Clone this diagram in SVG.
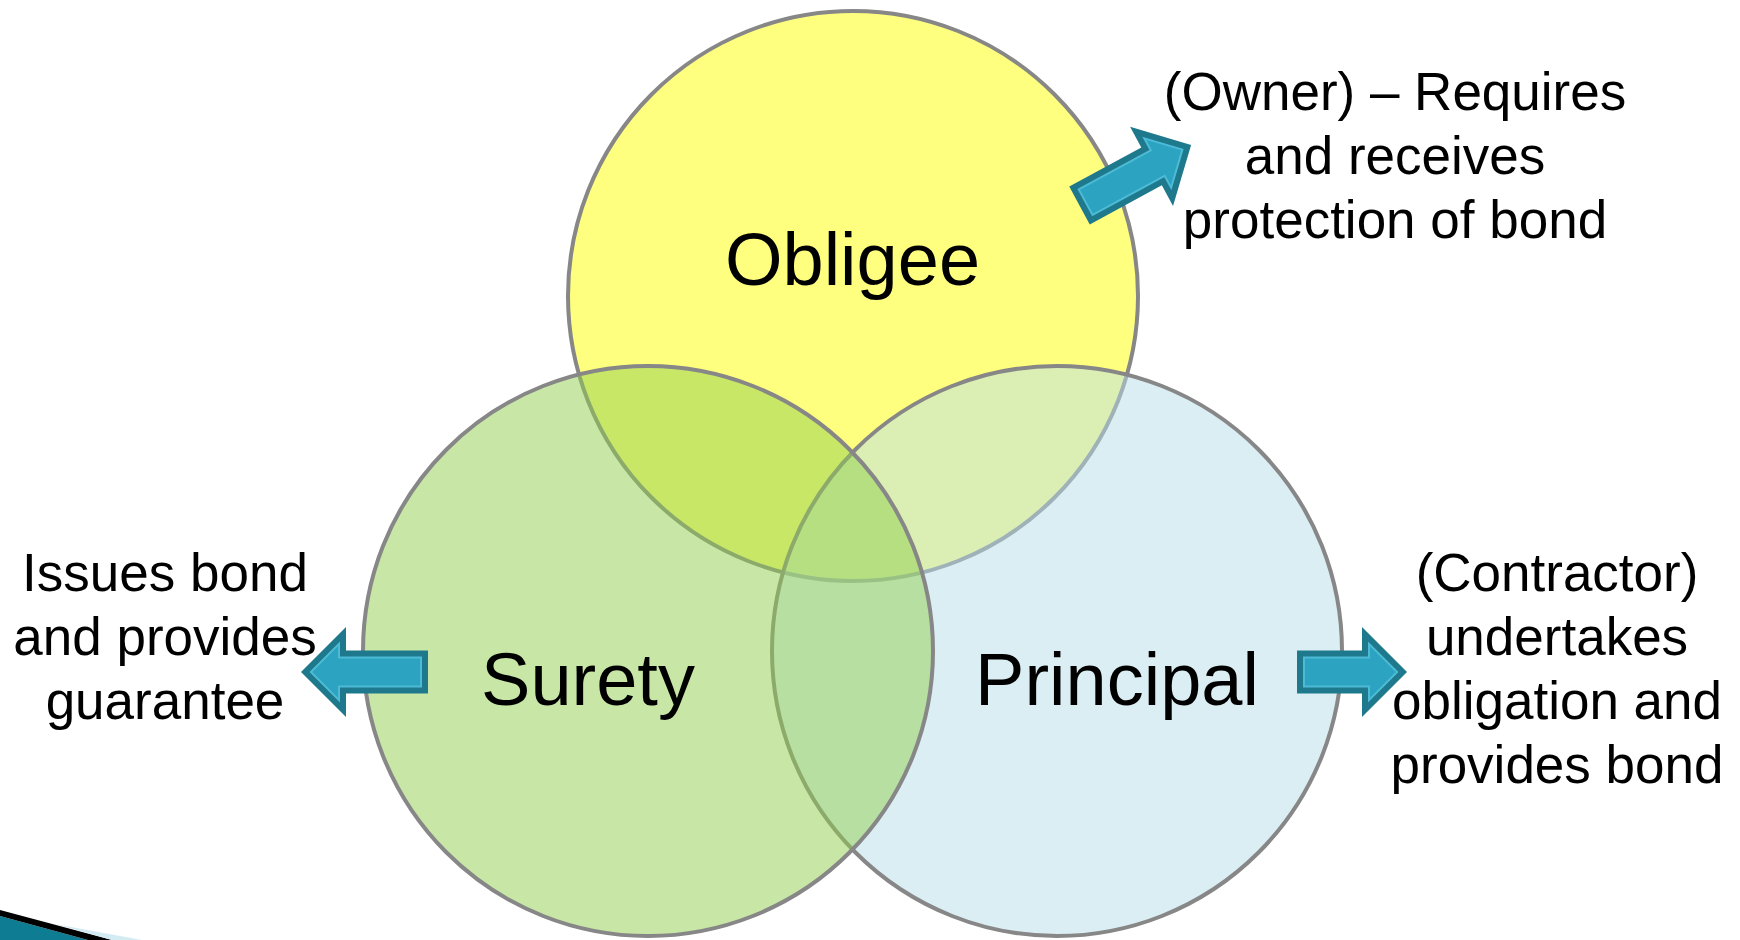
<svg xmlns="http://www.w3.org/2000/svg" width="1740" height="940" viewBox="0 0 1740 940">
<style>
.circ{stroke:#878787;stroke-width:4;fill-opacity:0.5}
.lbl{font-family:"Liberation Sans",Arial,sans-serif;font-size:74px;fill:#000;text-anchor:middle}
.desc{font-family:"Liberation Sans",Arial,sans-serif;font-size:53px;fill:#000;text-anchor:middle}
.aout{fill:#1F798D}
.ain{fill:#2BA3C1;stroke:#4DBBD5;stroke-width:2}
</style>
<defs>
<path id="a65o" d="M0,-21.5 H65 V-45 L110,0 L65,45 V21.5 H0 Z"/>
<path id="a65i" d="M7,-14.5 H72 V-28.1 L100.1,0 L72,28.1 V14.5 H7 Z"/>
<path id="a82o" d="M0,-21.5 H82 V-45 L127,0 L82,45 V21.5 H0 Z"/>
<path id="a82i" d="M7,-14.5 H89 V-28.1 L117.1,0 L89,28.1 V14.5 H7 Z"/>
</defs>
<rect width="1740" height="940" fill="#FFFFFF"/>
<g id="node-obligee">
<circle class="circ" cx="853" cy="296" r="285" fill="#FFFF00"/>
<text class="lbl" x="852.5" y="285">Obligee</text>
</g>
<g id="node-principal">
<circle class="circ" cx="1057" cy="651" r="285" fill="#B7DEE8"/>
<text class="lbl" x="1117" y="705">Principal</text>
</g>
<g id="node-surety">
<circle class="circ" cx="648" cy="651" r="285" fill="#92D050"/>
<text class="lbl" x="588" y="705">Surety</text>
</g>
<g id="connectors">
<g transform="translate(1079.5,205.5) rotate(-28.5)"><use href="#a82o" class="aout"/><use href="#a82i" class="ain"/></g>
<g transform="translate(1297,672)"><use href="#a65o" class="aout"/><use href="#a65i" class="ain"/></g>
<g transform="translate(428,672) rotate(180)"><use href="#a82o" class="aout"/><use href="#a82i" class="ain"/></g>
</g>
<g id="desc-obligee">
<text class="desc" x="1395" y="110">(Owner) – Requires</text>
<text class="desc" x="1395" y="174">and receives</text>
<text class="desc" x="1395" y="238">protection of bond</text>
</g>
<g id="desc-surety">
<text class="desc" x="165" y="591">Issues bond</text>
<text class="desc" x="165" y="655">and provides</text>
<text class="desc" x="165" y="719">guarantee</text>
</g>
<g id="desc-principal">
<text class="desc" x="1557" y="591">(Contractor)</text>
<text class="desc" x="1557" y="655">undertakes</text>
<text class="desc" x="1557" y="719">obligation and</text>
<text class="desc" x="1557" y="783">provides bond</text>
</g>
<g id="corner">
<polygon points="0,916 88,940 0,940" fill="#0E7D94"/>
<polygon points="0,910 112,940 88,940 0,916" fill="#000000"/>
<polygon points="55,924 142,940 112,940" fill="#D3ECF4"/>
</g>
</svg>
